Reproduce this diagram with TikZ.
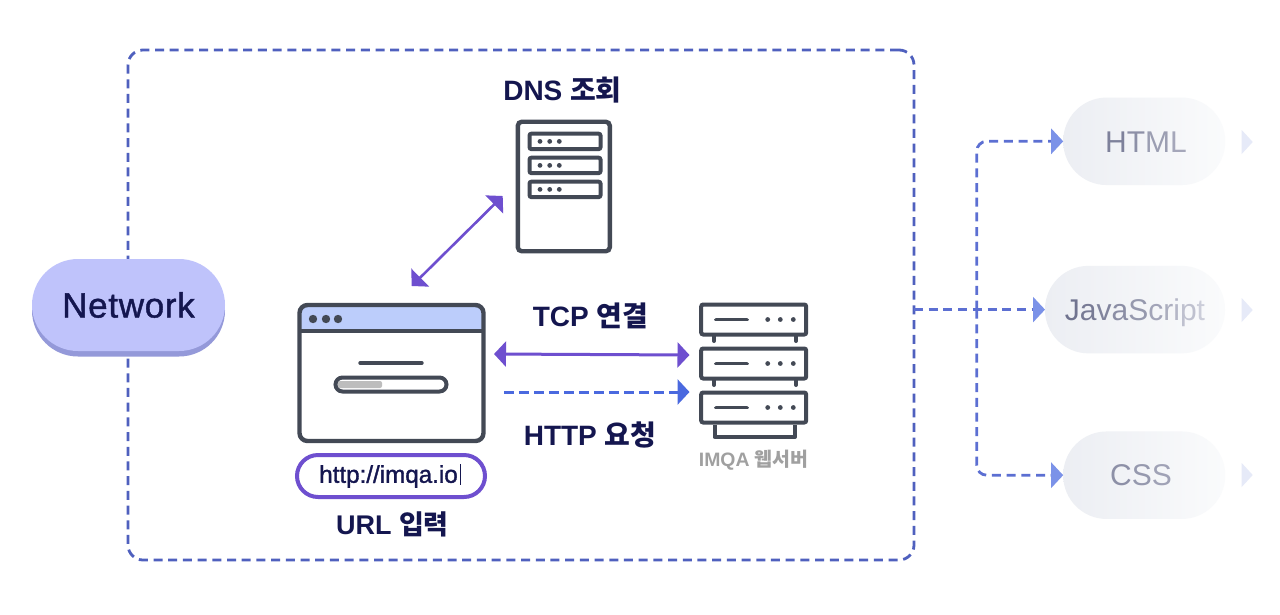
\documentclass[tikz,border=0pt]{standalone}
\usepackage{fontspec}
\setmainfont{Liberation Sans}
\newfontfamily\kr{Noto Sans CJK KR}
\newfontfamily\medf[FakeBold=1.4]{Liberation Sans}
\newfontfamily\medw[FakeBold=1.2,LetterSpace=2]{Liberation Sans}
\usetikzlibrary{arrows.meta,calc}
\definecolor{navy}{HTML}{14164F}
\definecolor{icon}{HTML}{434955}
\definecolor{violet}{HTML}{6E4FCF}
\definecolor{frameblue}{HTML}{4F60BE}
\definecolor{branchblue}{HTML}{5C6FD2}
\definecolor{headblue}{HTML}{7B92E8}
\definecolor{httpblue}{HTML}{4A69DF}
\definecolor{gA}{HTML}{70738F}
\definecolor{gB}{HTML}{D0D2DD}
\definecolor{netback}{HTML}{9499D9}
\definecolor{netfront}{HTML}{BFC3FB}
\definecolor{titlebar}{HTML}{BCCDFB}
\definecolor{bargrey}{HTML}{BDBDBD}
\definecolor{srvgrey}{HTML}{A0A0A0}
\definecolor{fainttri}{HTML}{E6EAF8}
\definecolor{pillL}{HTML}{ECEEF3}
\definecolor{pillR}{HTML}{FAFBFC}
\newcommand{\gt}[2]{\textcolor{gB!#1!gA}{#2}}
\tikzset{
  every node/.style={inner sep=0pt,outer sep=0pt},
  label/.style={font=\fontsize{28}{32}\selectfont\bfseries,text=navy,anchor=center},
  pill/.style={rounded corners=43.5pt,left color=pillL,right color=pillR,minimum height=87.5pt},
  iconline/.style={draw=icon,line width=4.4pt},
  iconbox/.style={draw=icon,line width=4pt,fill=white,rounded corners=2pt},
  tiny/.style={fill=icon,circle,minimum size=4.8pt},
  fade/.style={font=\fontsize{30}{34}\selectfont,anchor=center},
  branch/.style={draw=branchblue,line width=2.8pt,dash pattern=on 9pt off 5.7pt,arrows={-{Triangle[length=12pt,width=25pt,fill=headblue,color=headblue]}}},
  framedash/.style={draw=frameblue,line width=2.8pt,dash pattern=on 9pt off 5.7pt},
  purple/.style={draw=violet,line width=3pt,arrows={{Triangle[length=12pt,width=25pt]}-{Triangle[length=12pt,width=25pt]}}},
}
\begin{document}
\begin{tikzpicture}[x=1pt,y=-1pt]
\useasboundingbox[fill=white] (0,0) rectangle (1280,614);
% frame
\node[framedash,rounded corners=15pt,minimum width=786pt,minimum height=510pt] (frame) at (521,305) {};
% network
\node[rounded corners=46pt,fill=netback,minimum width=193pt,minimum height=92pt] (netshadow) at (128.5,310.5) {};
\node[rounded corners=46pt,fill=netfront,minimum width=193pt,minimum height=92pt,font=\fontsize{35}{40}\medw,text=navy] (network) at (128.5,305) {Network};
% DNS
\node[label] (dnslabel) at (562.5,90) {DNS {\kr 조회}};
\node[iconline,fill=white,rounded corners=4pt,minimum width=92pt,minimum height=129.5pt] (dns) at (563.8,186.5) {};
\foreach \n/\y in {a/141.4,b/165.4,c/189.4}{
  \node[iconbox,minimum width=71pt,minimum height=15.5pt] (dns\n) at (565,\y) {};
  \foreach \x in {540,549.7,559.3}{\node[tiny] at (\x,\y) {};}
}
% browser
\fill[fill=titlebar,rounded corners=7pt] (299.5,305) rectangle (483.5,331);
\node[iconline,rounded corners=8pt,minimum width=184pt,minimum height=136pt] (browser) at (391.5,373) {};
\draw[iconline,line width=4pt] (299.5,331) -- (483.5,331);
\foreach \x in {313,326,338}{\node[fill=icon,circle,minimum size=8.4pt] at (\x,319) {};}
\draw[icon,line width=3.4pt,line cap=round] (360,363) -- (422,363);
\node[draw=icon,line width=4pt,rounded corners=7pt,minimum width=111pt,minimum height=14pt] (progress) at (391,384.5) {};
\fill[fill=bargrey,rounded corners=2pt] (338,381) rectangle (382,388);
% URL
\node[draw=violet,line width=4pt,rounded corners=21pt,minimum width=188pt,minimum height=42pt] (url) at (391,476) {};
\node[font=\fontsize{24.2}{26}\medf,text=navy,anchor=center] (urltext) at (388.5,476.5) {http://imqa.io};
\draw[navy,line width=1pt] (460,464) -- (460,485);
\node[label,font=\fontsize{27}{32}\selectfont\bfseries] (urllabel) at (392.5,524) {URL {\kr 입력}};
% web server
\foreach \n/\y in {a/319.5,b/363.5,c/407.5}{
  \node[iconbox,minimum width=105pt,minimum height=30pt] (srv\n) at (753.7,\y) {};
  \draw[icon,line width=3.8pt,line cap=round] (716,\y) -- (747,\y);
  \foreach \x in {767.7,780.3,793.3}{\node[tiny] at (\x,\y) {};}
}
\foreach \x in {714,796}{
  \draw[icon,line width=4pt,line cap=round] (\x,336) -- (\x,341);
  \draw[icon,line width=4pt,line cap=round] (\x,380) -- (\x,385);
}
\draw[icon,line width=4pt,line join=round] (714.5,424.5) -- (714.5,437) -- (795,437) -- (795,424.5);
\node[font=\fontsize{19.4}{22}\selectfont\bfseries,text=srvgrey,anchor=center] (srvlabel) at (753.7,460) {IMQA {\kr 웹서버}};
% labels
\node[label] (tcplabel) at (590.5,316) {TCP {\kr 연결}};
\node[label] (httplabel) at (590,435) {HTTP {\kr 요청}};
% connectors
\coordinate (dnsA) at (502.7,196);
\coordinate (dnsB) at (411.7,286);
\coordinate (tcpA) at (494,354);
\coordinate (tcpB) at (689.5,355);
\coordinate (httpA) at (504,392);
\coordinate (httpB) at (689.5,392);
\draw[purple,line width=2.6pt] (dnsB) -- (dnsA);
\draw[purple] (tcpA) -- (tcpB);
\draw[draw=httpblue,line width=3pt,dash pattern=on 10pt off 5pt,arrows={-{Triangle[length=12pt,width=25pt,fill=httpblue,color=httpblue]}}] (httpA) -- (httpB);
% right pills
\node[pill,minimum width=162pt] (html) at (1144.2,141.3) {};
\node[pill,minimum width=180pt] (js) at (1135,309.6) {};
\node[pill,minimum width=162pt] (css) at (1144.2,475.2) {};
\node[fade] (htmlt) at (1146,142) {\gt{15}{H}\gt{30}{T}\gt{45}{M}\gt{55}{L}};
\node[fade] (jst) at (1135,313) {\gt{0}{J}\gt{8}{a}\gt{18}{v}\gt{28}{a}\gt{40}{S}\gt{52}{c}\gt{62}{r}\gt{72}{i}\gt{82}{p}\gt{95}{t}};
\node[fade] (csst) at (1141,475) {\gt{30}{C}\gt{40}{S}\gt{50}{S}};
\coordinate (hub) at (976.7,309.6);
\draw[branch,rounded corners=10pt] (hub) |- (html.west);
\draw[branch,rounded corners=10pt] (hub) |- (css.west);
\draw[branch] (frame.east |- js.west) -- (js.west);
% faint triangles
\foreach \y in {142,310,475}{
  \fill[fill=fainttri] (1241.7,\y-12) -- (1252.7,\y) -- (1241.7,\y+12) -- cycle;
}
\end{tikzpicture}
\end{document}
